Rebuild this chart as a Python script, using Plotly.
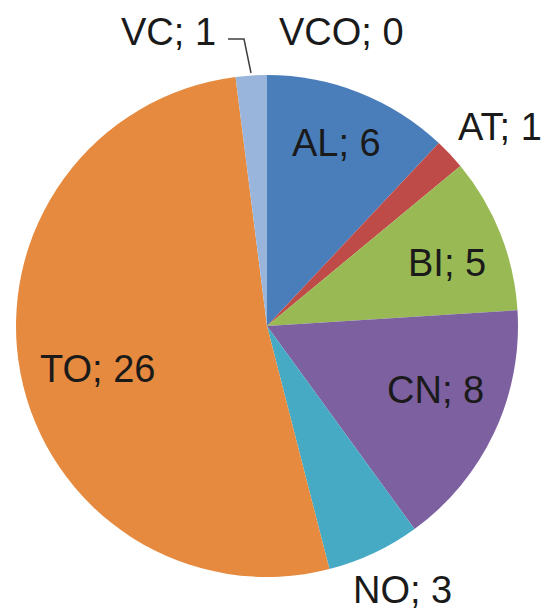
import plotly.graph_objects as go

W, H = 555, 613
OFF = 8  # default page body margin
FW, FH = W - OFF, H - OFF

labels = ["AL", "AT", "BI", "CN", "NO", "TO", "VC", "VCO"]
values = [6, 1, 5, 8, 3, 26, 1, 0]
colors = ["#4A7EBB", "#BE4B48", "#98B954", "#7D60A0", "#46AAC5", "#E58A3E", "#9AB5DB", "#F2F2F2"]

# label centre positions in window pixels (layout only)
label_px = [(336, 143), (500, 127), (447, 263), (435, 390), (402, 590),
            (97, 369), (168, 32), (341, 32)]


def px(x, y):
    return (x - OFF) / FW, 1 - (y - OFF) / FH


fig = go.Figure(go.Pie(
    labels=labels,
    values=values,
    sort=False,
    direction="clockwise",
    rotation=0,
    marker=dict(colors=colors, line=dict(width=0)),
    textinfo="none",
    hoverinfo="skip",
    showlegend=False,
    domain=dict(x=[px(16, 0)[0], px(518, 0)[0]], y=[px(0, 577)[1], px(0, 75)[1]]),
))

for lab, val, (x, y) in zip(labels, values, label_px):
    ax, ay = px(x, y)
    fig.add_annotation(
        x=ax, y=ay, xref="paper", yref="paper",
        text=f"{lab}; {val}", showarrow=False,
        xanchor="center", yanchor="middle",
        font=dict(family="Liberation Sans, Arial, sans-serif", size=38, color="#1A1A1A"),
    )

# leader line for VC label
p1, p2, p3 = px(228, 39), px(244, 39), px(251, 73)
fig.add_shape(
    type="path", xref="paper", yref="paper",
    path=f"M {p1[0]} {p1[1]} L {p2[0]} {p2[1]} L {p3[0]} {p3[1]}",
    line=dict(color="#404040", width=1.5),
)

fig.update_layout(
    width=FW, height=FH,
    margin=dict(l=0, r=0, t=0, b=0),
    paper_bgcolor="white",
    plot_bgcolor="white",
)

fig.write_html("out.html")
